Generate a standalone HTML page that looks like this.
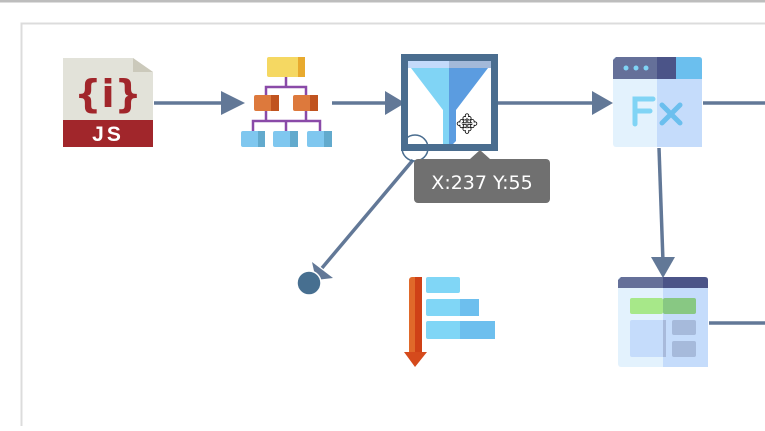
<!DOCTYPE html>
<html><head><style>
body{margin:0;width:765px;height:426px;overflow:hidden;background:#fff;font-family:"Liberation Sans",sans-serif}
</style></head><body>
<svg width="765" height="426" viewBox="0 0 765 426" xmlns="http://www.w3.org/2000/svg">
<rect x="0" y="0" width="765" height="2.5" fill="#bdbdbd"/>
<path d="M21.5 426V23.5H765" fill="none" stroke="#dcdcdc" stroke-width="2"/>
<g stroke="#627897" stroke-width="3.5" fill="none">
<line x1="154" y1="103" x2="225" y2="103"/>
<line x1="332" y1="103" x2="388" y2="103"/>
<line x1="498" y1="103" x2="596" y2="103"/>
<line x1="703" y1="103" x2="765" y2="103"/>
<line x1="659" y1="148" x2="663" y2="262"/>
<line x1="709" y1="323" x2="765" y2="323"/>
<line x1="413" y1="160" x2="322" y2="268"/>
</g>
<g fill="#627897">
<polygon points="221,91 245,103 221,115"/>
<polygon points="385,91 405,103 385,115"/>
<polygon points="592,91 613,103 592,115"/>
<polygon points="651,257 675,257 663,278"/>
<polygon points="312,262 333,278 316,280"/>
</g>
<circle cx="309" cy="283" r="12" fill="#476f90" stroke="#fff" stroke-width="1.5"/>
<!-- JS icon -->
<polygon points="63,58 133,58 153,72 153,120 63,120" fill="#e2e2d9"/>
<polygon points="133,58 153,72 133,72" fill="#cbc9bb"/>
<rect x="63" y="120" width="90" height="27" fill="#a1262b"/>
<text x="108" y="107" font-size="38" fill="#a1262b" text-anchor="middle" font-family="DejaVu Sans,sans-serif" font-weight="bold">{i}</text>
<text x="108" y="141" font-size="21" fill="#fff" text-anchor="middle" font-weight="bold" letter-spacing="3">JS</text>
<!-- hierarchy -->
<g stroke="#8a4aa8" stroke-width="2.5" fill="none">
<path d="M286 77V87M266 95V87H306V95M266 111V121M306 111V121M253 131V121H320V131M286 121V131"/>
</g>
<rect x="267" y="57" width="38" height="20" rx="2" fill="#f5d862"/><rect x="298" y="57" width="7" height="20" fill="#e8aa2e"/>
<rect x="254" y="95" width="25" height="16" rx="2" fill="#dd793c"/><rect x="271" y="95" width="8" height="16" fill="#c0531f"/>
<rect x="293" y="95" width="25" height="16" rx="2" fill="#dd793c"/><rect x="310" y="95" width="8" height="16" fill="#c0531f"/>
<rect x="241" y="131" width="24" height="16" rx="2" fill="#7fc7ef"/><rect x="258" y="131" width="7" height="16" fill="#62aacd"/>
<rect x="273" y="131" width="25" height="16" rx="2" fill="#7fc7ef"/><rect x="290" y="131" width="8" height="16" fill="#62aacd"/>
<rect x="307" y="131" width="25" height="16" rx="2" fill="#7fc7ef"/><rect x="324" y="131" width="8" height="16" fill="#62aacd"/>
<!-- filter -->
<rect x="404.5" y="57.5" width="90" height="90" fill="#fff" stroke="#4a6d8f" stroke-width="7"/>
<rect x="408" y="61" width="41" height="7" fill="#c3dafa"/><rect x="449" y="61" width="42" height="7" fill="#a3b9d9"/>
<polygon points="411,68 449,68 449,144 443,144 443,110" fill="#80d4f5"/>
<polygon points="449,68 488,68 456,110 456,141 453,144 449,144" fill="#5b9ce0"/>
<circle cx="415" cy="148" r="13" fill="none" stroke="#4a6d8f" stroke-width="1.5"/>
<text x="467" y="133" font-size="26" text-anchor="middle" fill="#fff" stroke="#000" stroke-width="0.8" font-family="DejaVu Sans,sans-serif">✥</text>
<!-- tooltip -->
<polygon points="470,159 480,150 490,159" fill="#707070"/>
<rect x="414" y="159" width="136" height="44" rx="4" fill="#707070"/>
<text x="482" y="189" font-size="19" fill="#fff" text-anchor="middle" font-family="DejaVu Sans,sans-serif">X:237 Y:55</text>
<!-- Fx -->
<rect x="613" y="57" width="89" height="90" rx="3" fill="#e3f2fd"/>
<rect x="657" y="79" width="45" height="68" fill="#c5dcfb"/>
<path d="M616 57H657V79H613V60Z" fill="#657099"/>
<rect x="657" y="57" width="19" height="22" fill="#4b5488"/>
<path d="M676 57H699Q702 57 702 60V79H676Z" fill="#6bbfee"/>
<circle cx="626" cy="68" r="2.5" fill="#7fd4f5"/><circle cx="636" cy="68" r="2.5" fill="#7fd4f5"/><circle cx="646" cy="68" r="2.5" fill="#7fd4f5"/>
<g stroke-width="5" stroke-linecap="round" fill="none">
<path d="M635 124V99H653M635 111H650" stroke="#80d4f5"/>
<path d="M662 105L680 123M680 105L662 123" stroke="#6bbfee"/>
</g>
<!-- sort -->
<rect x="409" y="277" width="13" height="80" rx="3" fill="#e0692a"/>
<rect x="415" y="277" width="7" height="80" fill="#cf4117"/>
<polygon points="404,352 427,352 415,367" fill="#d54a1c"/>
<rect x="426" y="277" width="34" height="16" rx="2" fill="#80d6f6"/>
<rect x="426" y="299" width="53" height="17" rx="2" fill="#80d6f6"/><rect x="460" y="299" width="19" height="17" fill="#6dbfee"/>
<rect x="426" y="321" width="69" height="18" rx="2" fill="#80d6f6"/><rect x="460" y="321" width="35" height="18" fill="#6dbfee"/>
<!-- table -->
<rect x="618" y="277" width="90" height="90" rx="3" fill="#e3f2fd"/>
<rect x="663" y="288" width="45" height="79" fill="#c5dcfb"/>
<path d="M621 277H663V288H618V280Z" fill="#657099"/>
<path d="M663 277H705Q708 277 708 280V288H663Z" fill="#4b5488"/>
<rect x="630" y="298" width="33" height="16" rx="2" fill="#a7e889"/><rect x="663" y="298" width="33" height="16" rx="2" fill="#88c883"/>
<rect x="630" y="320" width="36" height="37" rx="2" fill="#c5dcfb"/><rect x="663" y="320" width="3" height="37" fill="#a8badb"/>
<rect x="672" y="320" width="24" height="15" rx="2" fill="#a6badb"/>
<rect x="672" y="341" width="24" height="16" rx="2" fill="#a6badb"/>
</svg>
</body></html>
